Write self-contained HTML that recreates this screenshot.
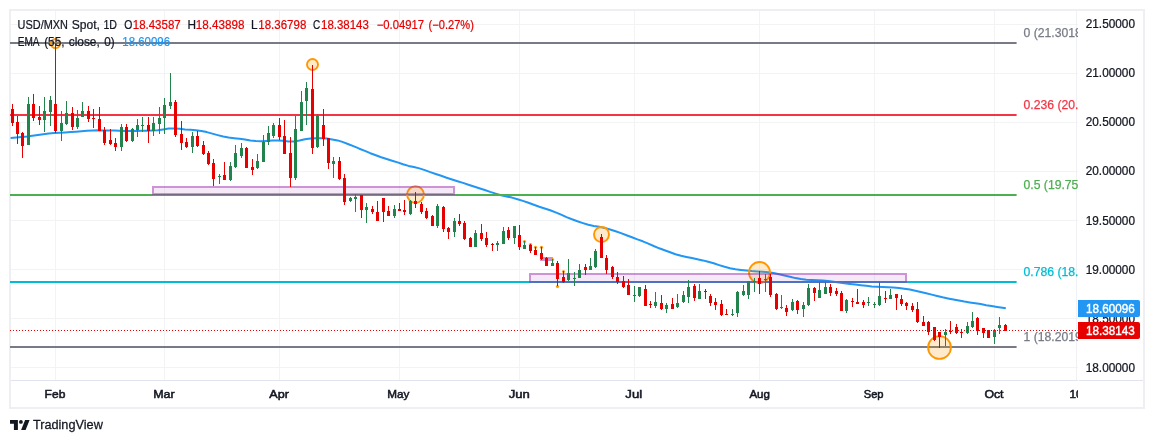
<!DOCTYPE html>
<html lang="en"><head><meta charset="utf-8"><title>USD/MXN Spot, 1D - TradingView</title>
<style>
html,body{margin:0;padding:0;background:#ffffff;}
body{width:1154px;height:443px;overflow:hidden;position:relative;font-family:"Liberation Sans",sans-serif;}
svg{position:absolute;left:0;top:0;display:block;}
text{font-family:"Liberation Sans",sans-serif;}
.c{shape-rendering:crispEdges;}
</style></head><body>
<svg width="1154" height="443" viewBox="0 0 1154 443" role="img" aria-label="USD/MXN daily candlestick chart">
<defs><clipPath id="pane"><rect x="10" y="11" width="1068" height="370"/></clipPath><clipPath id="tax"><rect x="11" y="381" width="1067" height="26"/></clipPath></defs>
<rect x="0" y="0" width="1154" height="443" fill="#ffffff"/>
<rect class="c" x="10" y="10" width="1134" height="398" fill="none" stroke="#edeff3" stroke-width="2"/>
<g class="c" stroke="#f2f3f5" stroke-width="1">
<line x1="11" y1="24.5" x2="1078" y2="24.5"/>
<line x1="11" y1="73.5" x2="1078" y2="73.5"/>
<line x1="11" y1="122.5" x2="1078" y2="122.5"/>
<line x1="11" y1="171.5" x2="1078" y2="171.5"/>
<line x1="11" y1="220.5" x2="1078" y2="220.5"/>
<line x1="11" y1="269.5" x2="1078" y2="269.5"/>
<line x1="11" y1="318.5" x2="1078" y2="318.5"/>
<line x1="11" y1="367.5" x2="1078" y2="367.5"/>
<line x1="55.5" y1="11" x2="55.5" y2="381"/>
<line x1="164.5" y1="11" x2="164.5" y2="381"/>
<line x1="279.5" y1="11" x2="279.5" y2="381"/>
<line x1="399.5" y1="11" x2="399.5" y2="381"/>
<line x1="519.5" y1="11" x2="519.5" y2="381"/>
<line x1="634.5" y1="11" x2="634.5" y2="381"/>
<line x1="759.5" y1="11" x2="759.5" y2="381"/>
<line x1="874.5" y1="11" x2="874.5" y2="381"/>
<line x1="994.5" y1="11" x2="994.5" y2="381"/>
</g>
<line class="c" x1="1076.5" y1="11" x2="1076.5" y2="380" stroke="#f0f1f4" stroke-width="1"/>
<path class="c" d="M11 380.5H1078M1079 380.5H1143" stroke="#e1e3ee" stroke-width="1" fill="none"/>
<g clip-path="url(#pane)">
<polyline points="10.6,137.9 16.1,137.4 21.5,136.9 27.0,136.4 32.4,135.7 37.9,135.0 43.3,134.2 48.8,133.5 54.2,133.1 59.7,132.7 65.1,132.4 70.6,132.1 76.0,131.7 81.5,131.3 86.9,130.8 92.4,130.5 97.8,130.3 103.3,130.4 108.7,130.4 114.2,130.6 119.6,130.8 125.1,130.9 130.5,130.9 136.0,130.9 141.4,130.8 146.9,130.7 152.3,130.5 157.8,130.2 163.2,129.4 168.7,128.6 174.1,128.4 179.6,128.8 185.0,129.4 190.5,129.8 195.9,130.2 201.4,130.9 206.8,132.1 212.3,133.6 217.7,135.1 223.2,136.5 228.6,137.5 234.1,138.2 239.5,138.8 245.0,139.5 250.4,140.5 255.9,141.1 261.3,141.2 266.8,140.9 272.2,140.6 277.7,140.5 283.1,140.8 288.6,141.4 294.0,141.4 299.5,140.5 304.9,139.2 310.4,138.6 315.8,138.3 321.3,138.3 326.7,138.6 332.2,139.4 337.6,140.4 343.1,142.1 348.5,144.2 354.0,146.4 359.4,148.7 364.9,150.9 370.3,153.2 375.8,155.3 381.2,157.3 386.7,159.0 392.1,160.7 397.6,162.4 403.0,164.3 408.5,165.9 413.9,167.1 419.4,168.4 424.8,170.1 430.3,172.1 435.7,174.0 441.2,175.8 446.6,177.7 452.1,179.5 457.5,181.2 463.0,182.9 468.4,184.7 473.9,186.5 479.3,188.2 484.8,190.0 490.2,191.9 495.7,193.6 501.1,195.2 506.6,196.4 512.0,197.6 517.5,199.2 522.9,200.9 528.4,202.7 533.8,204.7 539.3,206.7 544.7,208.5 550.2,210.3 555.6,212.4 561.1,214.7 566.5,217.1 572.0,219.3 577.4,221.3 582.9,223.1 588.3,224.8 593.8,225.9 599.2,226.8 604.7,227.9 610.1,229.5 615.6,231.2 621.0,233.1 626.5,235.2 631.9,237.3 637.4,239.4 642.8,241.3 648.3,243.6 653.7,246.0 659.2,248.3 664.6,250.3 670.1,252.3 675.5,254.2 681.0,255.7 686.4,256.9 691.9,258.1 697.3,259.2 702.8,260.4 708.2,261.8 713.7,263.3 719.1,265.1 724.6,266.8 730.0,268.3 735.5,269.3 740.9,269.9 746.4,270.5 751.8,271.1 757.3,271.5 762.7,271.8 768.2,272.2 773.6,273.1 779.1,274.2 784.5,275.5 790.0,276.8 795.4,278.1 800.9,279.1 806.3,279.7 811.8,280.0 817.2,280.3 822.7,280.6 828.1,281.1 833.6,281.7 839.0,282.5 844.5,283.3 849.9,284.0 855.4,284.6 860.8,285.2 866.3,285.8 871.7,286.4 877.2,286.7 882.6,286.9 888.1,287.2 893.5,287.6 899.0,288.1 904.4,288.7 909.9,289.6 915.3,290.7 920.8,291.9 926.2,293.2 931.7,294.6 937.1,296.0 942.6,297.3 948.0,298.4 953.5,299.5 958.9,300.6 964.4,301.6 969.8,302.4 975.3,303.2 980.7,304.1 986.2,305.2 991.6,306.1 997.1,307.0 1002.5,307.8 1005.8,308.3" fill="none" stroke="#2196f3" stroke-width="2" stroke-linejoin="round" stroke-linecap="butt"/>
<g>
<rect x="10" y="42" width="1006.6" height="2" fill="#787b86"/>
<rect x="10" y="114" width="1006.6" height="2" fill="#f23645"/>
<rect x="10" y="194" width="1006.6" height="2" fill="#4caf50"/>
<rect x="10" y="281" width="1006.6" height="2" fill="#00bcd4"/>
<rect x="10" y="346" width="1006.6" height="2" fill="#787b86"/>
</g>
<circle cx="55.5" cy="43.5" r="4.6" fill="rgba(255,152,0,0.2)" stroke="#ff9800" stroke-width="1.9"/>
<circle cx="312.5" cy="64.5" r="5.5" fill="rgba(255,152,0,0.2)" stroke="#ff9800" stroke-width="1.9"/>
<circle cx="415.5" cy="194.5" r="8.4" fill="rgba(255,152,0,0.2)" stroke="#ff9800" stroke-width="1.9"/>
<circle cx="601.5" cy="234.5" r="7.5" fill="rgba(255,152,0,0.2)" stroke="#ff9800" stroke-width="1.9"/>
<circle cx="759.5" cy="272.5" r="10.5" fill="rgba(255,152,0,0.2)" stroke="#ff9800" stroke-width="1.9"/>
<circle cx="939.5" cy="347.5" r="11.4" fill="rgba(255,152,0,0.2)" stroke="#ff9800" stroke-width="1.9"/>
<rect class="c" x="154" y="188" width="299" height="5" fill="rgba(156,39,176,0.1)"/>
<path class="c" fill="rgba(156,39,176,0.5)" fill-rule="evenodd" d="M152 186H455V195H152Z M154 188V193H453V188Z"/>
<rect class="c" x="531" y="275" width="374" height="6" fill="rgba(156,39,176,0.1)"/>
<path class="c" fill="rgba(156,39,176,0.5)" fill-rule="evenodd" d="M529 273H907V283H529Z M531 275V281H905V275Z"/>
<rect class="c" x="540" y="257" width="13" height="4" fill="rgba(156,39,176,0.5)"/>
<circle cx="524.5" cy="241.5" r="1.6" fill="#ff9800"/>
<circle cx="530.5" cy="244.5" r="1.6" fill="#ff9800"/>
<circle cx="535.5" cy="247.3" r="1.6" fill="#ff9800"/>
<circle cx="541.5" cy="247.3" r="1.6" fill="#ff9800"/>
<circle cx="552.5" cy="259.5" r="1.6" fill="#ff9800"/>
<circle cx="563.5" cy="271.5" r="1.6" fill="#ff9800"/>
<circle cx="557.5" cy="286.5" r="1.6" fill="#ff9800"/>
<g class="c">
<rect x="12" y="104" width="1" height="22" fill="#e60000"/>
<rect x="11" y="109" width="3" height="14" fill="#e60000"/>
<rect x="17" y="116" width="1" height="28" fill="#e60000"/>
<rect x="16" y="122" width="3" height="12" fill="#e60000"/>
<rect x="22" y="132" width="1" height="26" fill="#e60000"/>
<rect x="21" y="133" width="3" height="13" fill="#e60000"/>
<rect x="28" y="97" width="1" height="48" fill="#22834d"/>
<rect x="27" y="104" width="3" height="41" fill="#22834d"/>
<rect x="33" y="94" width="1" height="27" fill="#e60000"/>
<rect x="32" y="104" width="3" height="14" fill="#e60000"/>
<rect x="39" y="106" width="1" height="19" fill="#e60000"/>
<rect x="38" y="117" width="3" height="3" fill="#e60000"/>
<rect x="44" y="97" width="1" height="35" fill="#22834d"/>
<rect x="43" y="111" width="3" height="9" fill="#22834d"/>
<rect x="50" y="96" width="1" height="30" fill="#22834d"/>
<rect x="49" y="100" width="3" height="12" fill="#22834d"/>
<rect x="55" y="44" width="1" height="89" fill="#e60000"/>
<rect x="54" y="104" width="3" height="27" fill="#e60000"/>
<rect x="61" y="111" width="1" height="30" fill="#22834d"/>
<rect x="60" y="123" width="3" height="8" fill="#22834d"/>
<rect x="66" y="101" width="1" height="24" fill="#22834d"/>
<rect x="65" y="113" width="3" height="11" fill="#22834d"/>
<rect x="72" y="107" width="1" height="23" fill="#e60000"/>
<rect x="71" y="113" width="3" height="14" fill="#e60000"/>
<rect x="77" y="110" width="1" height="19" fill="#22834d"/>
<rect x="76" y="118" width="3" height="9" fill="#22834d"/>
<rect x="82" y="102" width="1" height="15" fill="#22834d"/>
<rect x="81" y="111" width="3" height="6" fill="#22834d"/>
<rect x="88" y="106" width="1" height="16" fill="#e60000"/>
<rect x="87" y="111" width="3" height="8" fill="#e60000"/>
<rect x="93" y="109" width="1" height="19" fill="#e60000"/>
<rect x="92" y="118" width="3" height="1" fill="#e60000"/>
<rect x="99" y="107" width="1" height="24" fill="#e60000"/>
<rect x="98" y="119" width="3" height="12" fill="#e60000"/>
<rect x="104" y="127" width="1" height="18" fill="#e60000"/>
<rect x="103" y="130" width="3" height="13" fill="#e60000"/>
<rect x="110" y="129" width="1" height="16" fill="#e60000"/>
<rect x="109" y="140" width="3" height="4" fill="#e60000"/>
<rect x="115" y="138" width="1" height="13" fill="#e60000"/>
<rect x="114" y="143" width="3" height="4" fill="#e60000"/>
<rect x="121" y="124" width="1" height="27" fill="#22834d"/>
<rect x="120" y="127" width="3" height="20" fill="#22834d"/>
<rect x="126" y="124" width="1" height="18" fill="#e60000"/>
<rect x="125" y="127" width="3" height="14" fill="#e60000"/>
<rect x="132" y="128" width="1" height="14" fill="#22834d"/>
<rect x="131" y="129" width="3" height="12" fill="#22834d"/>
<rect x="137" y="119" width="1" height="18" fill="#22834d"/>
<rect x="136" y="125" width="3" height="5" fill="#22834d"/>
<rect x="142" y="117" width="1" height="15" fill="#22834d"/>
<rect x="141" y="125" width="3" height="1" fill="#22834d"/>
<rect x="148" y="117" width="1" height="26" fill="#e60000"/>
<rect x="147" y="125" width="3" height="6" fill="#e60000"/>
<rect x="153" y="117" width="1" height="19" fill="#22834d"/>
<rect x="152" y="123" width="3" height="8" fill="#22834d"/>
<rect x="159" y="107" width="1" height="27" fill="#22834d"/>
<rect x="158" y="118" width="3" height="6" fill="#22834d"/>
<rect x="164" y="98" width="1" height="36" fill="#22834d"/>
<rect x="163" y="105" width="3" height="13" fill="#22834d"/>
<rect x="170" y="73" width="1" height="36" fill="#22834d"/>
<rect x="169" y="102" width="3" height="4" fill="#22834d"/>
<rect x="175" y="100" width="1" height="37" fill="#e60000"/>
<rect x="174" y="102" width="3" height="33" fill="#e60000"/>
<rect x="181" y="121" width="1" height="29" fill="#e60000"/>
<rect x="180" y="134" width="3" height="9" fill="#e60000"/>
<rect x="186" y="138" width="1" height="10" fill="#e60000"/>
<rect x="185" y="142" width="3" height="5" fill="#e60000"/>
<rect x="192" y="132" width="1" height="21" fill="#22834d"/>
<rect x="191" y="136" width="3" height="11" fill="#22834d"/>
<rect x="197" y="131" width="1" height="16" fill="#e60000"/>
<rect x="196" y="136" width="3" height="10" fill="#e60000"/>
<rect x="203" y="141" width="1" height="14" fill="#e60000"/>
<rect x="202" y="145" width="3" height="9" fill="#e60000"/>
<rect x="208" y="151" width="1" height="14" fill="#e60000"/>
<rect x="207" y="153" width="3" height="11" fill="#e60000"/>
<rect x="213" y="159" width="1" height="27" fill="#e60000"/>
<rect x="212" y="163" width="3" height="16" fill="#e60000"/>
<rect x="219" y="174" width="1" height="10" fill="#22834d"/>
<rect x="218" y="176" width="3" height="1" fill="#22834d"/>
<rect x="224" y="162" width="1" height="18" fill="#e60000"/>
<rect x="223" y="175" width="3" height="5" fill="#e60000"/>
<rect x="230" y="162" width="1" height="19" fill="#22834d"/>
<rect x="229" y="166" width="3" height="14" fill="#22834d"/>
<rect x="235" y="145" width="1" height="23" fill="#22834d"/>
<rect x="234" y="153" width="3" height="14" fill="#22834d"/>
<rect x="241" y="143" width="1" height="15" fill="#22834d"/>
<rect x="240" y="148" width="3" height="8" fill="#22834d"/>
<rect x="246" y="147" width="1" height="21" fill="#e60000"/>
<rect x="245" y="148" width="3" height="20" fill="#e60000"/>
<rect x="252" y="159" width="1" height="16" fill="#e60000"/>
<rect x="251" y="167" width="3" height="3" fill="#e60000"/>
<rect x="257" y="154" width="1" height="15" fill="#22834d"/>
<rect x="256" y="161" width="3" height="7" fill="#22834d"/>
<rect x="263" y="135" width="1" height="27" fill="#22834d"/>
<rect x="262" y="142" width="3" height="20" fill="#22834d"/>
<rect x="268" y="126" width="1" height="19" fill="#22834d"/>
<rect x="267" y="133" width="3" height="9" fill="#22834d"/>
<rect x="273" y="123" width="1" height="15" fill="#22834d"/>
<rect x="272" y="125" width="3" height="11" fill="#22834d"/>
<rect x="279" y="118" width="1" height="22" fill="#e60000"/>
<rect x="278" y="125" width="3" height="12" fill="#e60000"/>
<rect x="284" y="120" width="1" height="34" fill="#e60000"/>
<rect x="283" y="136" width="3" height="18" fill="#e60000"/>
<rect x="290" y="137" width="1" height="50" fill="#e60000"/>
<rect x="289" y="153" width="3" height="25" fill="#e60000"/>
<rect x="295" y="116" width="1" height="64" fill="#22834d"/>
<rect x="294" y="129" width="3" height="49" fill="#22834d"/>
<rect x="301" y="91" width="1" height="40" fill="#22834d"/>
<rect x="300" y="102" width="3" height="29" fill="#22834d"/>
<rect x="306" y="82" width="1" height="43" fill="#22834d"/>
<rect x="305" y="88" width="3" height="13" fill="#22834d"/>
<rect x="312" y="65" width="1" height="89" fill="#e60000"/>
<rect x="311" y="89" width="3" height="59" fill="#e60000"/>
<rect x="317" y="114" width="1" height="34" fill="#22834d"/>
<rect x="316" y="116" width="3" height="31" fill="#22834d"/>
<rect x="323" y="109" width="1" height="37" fill="#e60000"/>
<rect x="322" y="125" width="3" height="14" fill="#e60000"/>
<rect x="328" y="138" width="1" height="31" fill="#e60000"/>
<rect x="327" y="138" width="3" height="25" fill="#e60000"/>
<rect x="333" y="157" width="1" height="21" fill="#22834d"/>
<rect x="332" y="161" width="3" height="3" fill="#22834d"/>
<rect x="339" y="157" width="1" height="23" fill="#e60000"/>
<rect x="338" y="161" width="3" height="18" fill="#e60000"/>
<rect x="344" y="174" width="1" height="31" fill="#e60000"/>
<rect x="343" y="178" width="3" height="24" fill="#e60000"/>
<rect x="350" y="197" width="1" height="5" fill="#22834d"/>
<rect x="349" y="198" width="3" height="3" fill="#22834d"/>
<rect x="355" y="194" width="1" height="18" fill="#22834d"/>
<rect x="354" y="197" width="3" height="2" fill="#22834d"/>
<rect x="361" y="195" width="1" height="23" fill="#e60000"/>
<rect x="360" y="195" width="3" height="15" fill="#e60000"/>
<rect x="366" y="203" width="1" height="20" fill="#22834d"/>
<rect x="365" y="207" width="3" height="3" fill="#22834d"/>
<rect x="372" y="206" width="1" height="8" fill="#e60000"/>
<rect x="371" y="209" width="3" height="3" fill="#e60000"/>
<rect x="377" y="201" width="1" height="20" fill="#e60000"/>
<rect x="376" y="212" width="3" height="9" fill="#e60000"/>
<rect x="383" y="198" width="1" height="24" fill="#e60000"/>
<rect x="382" y="198" width="3" height="14" fill="#e60000"/>
<rect x="388" y="206" width="1" height="10" fill="#e60000"/>
<rect x="387" y="211" width="3" height="5" fill="#e60000"/>
<rect x="394" y="205" width="1" height="13" fill="#22834d"/>
<rect x="393" y="209" width="3" height="7" fill="#22834d"/>
<rect x="399" y="203" width="1" height="8" fill="#e60000"/>
<rect x="398" y="209" width="3" height="2" fill="#e60000"/>
<rect x="404" y="200" width="1" height="15" fill="#e60000"/>
<rect x="403" y="210" width="3" height="2" fill="#e60000"/>
<rect x="410" y="200" width="1" height="15" fill="#22834d"/>
<rect x="409" y="201" width="3" height="13" fill="#22834d"/>
<rect x="415" y="192" width="1" height="16" fill="#e60000"/>
<rect x="414" y="201" width="3" height="3" fill="#e60000"/>
<rect x="421" y="202" width="1" height="12" fill="#e60000"/>
<rect x="420" y="204" width="3" height="8" fill="#e60000"/>
<rect x="426" y="208" width="1" height="11" fill="#e60000"/>
<rect x="425" y="211" width="3" height="7" fill="#e60000"/>
<rect x="432" y="215" width="1" height="11" fill="#e60000"/>
<rect x="431" y="216" width="3" height="10" fill="#e60000"/>
<rect x="437" y="204" width="1" height="24" fill="#22834d"/>
<rect x="436" y="206" width="3" height="20" fill="#22834d"/>
<rect x="443" y="206" width="1" height="26" fill="#e60000"/>
<rect x="442" y="207" width="3" height="22" fill="#e60000"/>
<rect x="448" y="227" width="1" height="12" fill="#e60000"/>
<rect x="447" y="228" width="3" height="4" fill="#e60000"/>
<rect x="454" y="218" width="1" height="19" fill="#22834d"/>
<rect x="453" y="221" width="3" height="11" fill="#22834d"/>
<rect x="459" y="214" width="1" height="12" fill="#e60000"/>
<rect x="458" y="221" width="3" height="3" fill="#e60000"/>
<rect x="464" y="221" width="1" height="19" fill="#e60000"/>
<rect x="463" y="223" width="3" height="16" fill="#e60000"/>
<rect x="470" y="237" width="1" height="10" fill="#e60000"/>
<rect x="469" y="238" width="3" height="9" fill="#e60000"/>
<rect x="475" y="230" width="1" height="17" fill="#22834d"/>
<rect x="474" y="233" width="3" height="14" fill="#22834d"/>
<rect x="481" y="224" width="1" height="17" fill="#e60000"/>
<rect x="480" y="233" width="3" height="6" fill="#e60000"/>
<rect x="486" y="232" width="1" height="15" fill="#e60000"/>
<rect x="485" y="238" width="3" height="7" fill="#e60000"/>
<rect x="492" y="243" width="1" height="8" fill="#e60000"/>
<rect x="491" y="244" width="3" height="1" fill="#e60000"/>
<rect x="497" y="241" width="1" height="10" fill="#22834d"/>
<rect x="496" y="243" width="3" height="2" fill="#22834d"/>
<rect x="503" y="227" width="1" height="17" fill="#22834d"/>
<rect x="502" y="231" width="3" height="13" fill="#22834d"/>
<rect x="508" y="227" width="1" height="13" fill="#e60000"/>
<rect x="507" y="230" width="3" height="8" fill="#e60000"/>
<rect x="514" y="226" width="1" height="18" fill="#22834d"/>
<rect x="513" y="226" width="3" height="12" fill="#22834d"/>
<rect x="519" y="225" width="1" height="25" fill="#e60000"/>
<rect x="518" y="235" width="3" height="12" fill="#e60000"/>
<rect x="524" y="241" width="1" height="8" fill="#22834d"/>
<rect x="523" y="245" width="3" height="4" fill="#22834d"/>
<rect x="530" y="244" width="1" height="9" fill="#e60000"/>
<rect x="529" y="245" width="3" height="6" fill="#e60000"/>
<rect x="535" y="247" width="1" height="8" fill="#e60000"/>
<rect x="534" y="250" width="3" height="5" fill="#e60000"/>
<rect x="541" y="247" width="1" height="13" fill="#e60000"/>
<rect x="540" y="253" width="3" height="6" fill="#e60000"/>
<rect x="546" y="257" width="1" height="9" fill="#e60000"/>
<rect x="545" y="258" width="3" height="8" fill="#e60000"/>
<rect x="552" y="259" width="1" height="7" fill="#22834d"/>
<rect x="551" y="263" width="3" height="3" fill="#22834d"/>
<rect x="557" y="261" width="1" height="25" fill="#e60000"/>
<rect x="556" y="263" width="3" height="16" fill="#e60000"/>
<rect x="563" y="271" width="1" height="12" fill="#e60000"/>
<rect x="562" y="277" width="3" height="5" fill="#e60000"/>
<rect x="568" y="259" width="1" height="22" fill="#22834d"/>
<rect x="567" y="273" width="3" height="7" fill="#22834d"/>
<rect x="574" y="272" width="1" height="14" fill="#22834d"/>
<rect x="573" y="278" width="3" height="1" fill="#22834d"/>
<rect x="579" y="264" width="1" height="14" fill="#22834d"/>
<rect x="578" y="270" width="3" height="8" fill="#22834d"/>
<rect x="585" y="264" width="1" height="11" fill="#e60000"/>
<rect x="584" y="267" width="3" height="3" fill="#e60000"/>
<rect x="590" y="258" width="1" height="12" fill="#22834d"/>
<rect x="589" y="266" width="3" height="4" fill="#22834d"/>
<rect x="595" y="249" width="1" height="19" fill="#22834d"/>
<rect x="594" y="251" width="3" height="16" fill="#22834d"/>
<rect x="601" y="234" width="1" height="24" fill="#e60000"/>
<rect x="600" y="237" width="3" height="21" fill="#e60000"/>
<rect x="606" y="255" width="1" height="19" fill="#e60000"/>
<rect x="605" y="258" width="3" height="12" fill="#e60000"/>
<rect x="612" y="266" width="1" height="13" fill="#e60000"/>
<rect x="611" y="267" width="3" height="10" fill="#e60000"/>
<rect x="617" y="272" width="1" height="12" fill="#e60000"/>
<rect x="616" y="277" width="3" height="5" fill="#e60000"/>
<rect x="623" y="276" width="1" height="12" fill="#e60000"/>
<rect x="622" y="281" width="3" height="6" fill="#e60000"/>
<rect x="628" y="279" width="1" height="16" fill="#e60000"/>
<rect x="627" y="285" width="3" height="10" fill="#e60000"/>
<rect x="634" y="286" width="1" height="16" fill="#22834d"/>
<rect x="633" y="295" width="3" height="1" fill="#22834d"/>
<rect x="639" y="287" width="1" height="10" fill="#22834d"/>
<rect x="638" y="287" width="3" height="9" fill="#22834d"/>
<rect x="645" y="285" width="1" height="21" fill="#e60000"/>
<rect x="644" y="289" width="3" height="17" fill="#e60000"/>
<rect x="650" y="301" width="1" height="7" fill="#e60000"/>
<rect x="649" y="304" width="3" height="1" fill="#e60000"/>
<rect x="655" y="292" width="1" height="16" fill="#22834d"/>
<rect x="654" y="302" width="3" height="4" fill="#22834d"/>
<rect x="661" y="295" width="1" height="15" fill="#e60000"/>
<rect x="660" y="303" width="3" height="6" fill="#e60000"/>
<rect x="666" y="303" width="1" height="10" fill="#22834d"/>
<rect x="665" y="305" width="3" height="4" fill="#22834d"/>
<rect x="672" y="298" width="1" height="11" fill="#e60000"/>
<rect x="671" y="304" width="3" height="5" fill="#e60000"/>
<rect x="677" y="294" width="1" height="14" fill="#22834d"/>
<rect x="676" y="303" width="3" height="4" fill="#22834d"/>
<rect x="683" y="291" width="1" height="12" fill="#22834d"/>
<rect x="682" y="295" width="3" height="7" fill="#22834d"/>
<rect x="688" y="280" width="1" height="23" fill="#22834d"/>
<rect x="687" y="287" width="3" height="10" fill="#22834d"/>
<rect x="694" y="284" width="1" height="17" fill="#e60000"/>
<rect x="693" y="286" width="3" height="12" fill="#e60000"/>
<rect x="699" y="284" width="1" height="15" fill="#22834d"/>
<rect x="698" y="291" width="3" height="8" fill="#22834d"/>
<rect x="705" y="289" width="1" height="10" fill="#e60000"/>
<rect x="704" y="291" width="3" height="1" fill="#e60000"/>
<rect x="710" y="294" width="1" height="12" fill="#e60000"/>
<rect x="709" y="296" width="3" height="7" fill="#e60000"/>
<rect x="715" y="298" width="1" height="12" fill="#e60000"/>
<rect x="714" y="302" width="3" height="3" fill="#e60000"/>
<rect x="721" y="300" width="1" height="16" fill="#e60000"/>
<rect x="720" y="304" width="3" height="11" fill="#e60000"/>
<rect x="726" y="309" width="1" height="6" fill="#e60000"/>
<rect x="725" y="314" width="3" height="1" fill="#e60000"/>
<rect x="732" y="309" width="1" height="7" fill="#22834d"/>
<rect x="731" y="314" width="3" height="1" fill="#22834d"/>
<rect x="737" y="291" width="1" height="26" fill="#22834d"/>
<rect x="736" y="292" width="3" height="21" fill="#22834d"/>
<rect x="743" y="285" width="1" height="11" fill="#22834d"/>
<rect x="742" y="291" width="3" height="4" fill="#22834d"/>
<rect x="748" y="281" width="1" height="18" fill="#22834d"/>
<rect x="747" y="281" width="3" height="14" fill="#22834d"/>
<rect x="754" y="278" width="1" height="14" fill="#22834d"/>
<rect x="753" y="281" width="3" height="1" fill="#22834d"/>
<rect x="759" y="271" width="1" height="23" fill="#e60000"/>
<rect x="758" y="278" width="3" height="6" fill="#e60000"/>
<rect x="765" y="274" width="1" height="18" fill="#22834d"/>
<rect x="764" y="279" width="3" height="1" fill="#22834d"/>
<rect x="770" y="274" width="1" height="23" fill="#e60000"/>
<rect x="769" y="277" width="3" height="18" fill="#e60000"/>
<rect x="776" y="293" width="1" height="17" fill="#e60000"/>
<rect x="775" y="294" width="3" height="15" fill="#e60000"/>
<rect x="781" y="295" width="1" height="14" fill="#22834d"/>
<rect x="780" y="307" width="3" height="1" fill="#22834d"/>
<rect x="786" y="305" width="1" height="11" fill="#e60000"/>
<rect x="785" y="308" width="3" height="4" fill="#e60000"/>
<rect x="792" y="299" width="1" height="12" fill="#22834d"/>
<rect x="791" y="302" width="3" height="8" fill="#22834d"/>
<rect x="797" y="300" width="1" height="14" fill="#e60000"/>
<rect x="796" y="301" width="3" height="9" fill="#e60000"/>
<rect x="803" y="302" width="1" height="15" fill="#22834d"/>
<rect x="802" y="305" width="3" height="4" fill="#22834d"/>
<rect x="808" y="284" width="1" height="22" fill="#22834d"/>
<rect x="807" y="288" width="3" height="17" fill="#22834d"/>
<rect x="814" y="287" width="1" height="14" fill="#e60000"/>
<rect x="813" y="288" width="3" height="5" fill="#e60000"/>
<rect x="819" y="282" width="1" height="16" fill="#22834d"/>
<rect x="818" y="290" width="3" height="8" fill="#22834d"/>
<rect x="825" y="282" width="1" height="12" fill="#22834d"/>
<rect x="824" y="287" width="3" height="7" fill="#22834d"/>
<rect x="830" y="284" width="1" height="12" fill="#e60000"/>
<rect x="829" y="287" width="3" height="6" fill="#e60000"/>
<rect x="836" y="288" width="1" height="8" fill="#e60000"/>
<rect x="835" y="291" width="3" height="3" fill="#e60000"/>
<rect x="841" y="291" width="1" height="20" fill="#e60000"/>
<rect x="840" y="293" width="3" height="18" fill="#e60000"/>
<rect x="846" y="299" width="1" height="14" fill="#22834d"/>
<rect x="845" y="300" width="3" height="11" fill="#22834d"/>
<rect x="852" y="298" width="1" height="9" fill="#e60000"/>
<rect x="851" y="301" width="3" height="1" fill="#e60000"/>
<rect x="857" y="289" width="1" height="15" fill="#e60000"/>
<rect x="856" y="302" width="3" height="2" fill="#e60000"/>
<rect x="863" y="300" width="1" height="8" fill="#e60000"/>
<rect x="862" y="302" width="3" height="3" fill="#e60000"/>
<rect x="868" y="297" width="1" height="9" fill="#22834d"/>
<rect x="867" y="302" width="3" height="1" fill="#22834d"/>
<rect x="874" y="302" width="1" height="6" fill="#22834d"/>
<rect x="873" y="304" width="3" height="1" fill="#22834d"/>
<rect x="879" y="282" width="1" height="24" fill="#22834d"/>
<rect x="878" y="296" width="3" height="9" fill="#22834d"/>
<rect x="885" y="291" width="1" height="12" fill="#e60000"/>
<rect x="884" y="298" width="3" height="1" fill="#e60000"/>
<rect x="890" y="289" width="1" height="10" fill="#22834d"/>
<rect x="889" y="295" width="3" height="4" fill="#22834d"/>
<rect x="896" y="294" width="1" height="16" fill="#e60000"/>
<rect x="895" y="294" width="3" height="4" fill="#e60000"/>
<rect x="901" y="295" width="1" height="11" fill="#e60000"/>
<rect x="900" y="299" width="3" height="5" fill="#e60000"/>
<rect x="906" y="302" width="1" height="8" fill="#e60000"/>
<rect x="905" y="303" width="3" height="3" fill="#e60000"/>
<rect x="912" y="303" width="1" height="9" fill="#e60000"/>
<rect x="911" y="306" width="3" height="4" fill="#e60000"/>
<rect x="917" y="302" width="1" height="21" fill="#e60000"/>
<rect x="916" y="309" width="3" height="13" fill="#e60000"/>
<rect x="923" y="316" width="1" height="10" fill="#e60000"/>
<rect x="922" y="322" width="3" height="4" fill="#e60000"/>
<rect x="928" y="321" width="1" height="14" fill="#e60000"/>
<rect x="927" y="322" width="3" height="10" fill="#e60000"/>
<rect x="934" y="327" width="1" height="14" fill="#e60000"/>
<rect x="933" y="327" width="3" height="13" fill="#e60000"/>
<rect x="939" y="332" width="1" height="16" fill="#e60000"/>
<rect x="938" y="332" width="3" height="5" fill="#e60000"/>
<rect x="945" y="329" width="1" height="17" fill="#22834d"/>
<rect x="944" y="332" width="3" height="3" fill="#22834d"/>
<rect x="950" y="321" width="1" height="13" fill="#e60000"/>
<rect x="949" y="331" width="3" height="1" fill="#e60000"/>
<rect x="956" y="324" width="1" height="10" fill="#e60000"/>
<rect x="955" y="327" width="3" height="6" fill="#e60000"/>
<rect x="961" y="329" width="1" height="9" fill="#e60000"/>
<rect x="960" y="332" width="3" height="1" fill="#e60000"/>
<rect x="967" y="322" width="1" height="12" fill="#22834d"/>
<rect x="966" y="326" width="3" height="7" fill="#22834d"/>
<rect x="972" y="312" width="1" height="16" fill="#22834d"/>
<rect x="971" y="321" width="3" height="6" fill="#22834d"/>
<rect x="977" y="317" width="1" height="18" fill="#e60000"/>
<rect x="976" y="318" width="3" height="13" fill="#e60000"/>
<rect x="983" y="328" width="1" height="10" fill="#e60000"/>
<rect x="982" y="328" width="3" height="5" fill="#e60000"/>
<rect x="988" y="330" width="1" height="8" fill="#e60000"/>
<rect x="987" y="330" width="3" height="8" fill="#e60000"/>
<rect x="994" y="329" width="1" height="15" fill="#22834d"/>
<rect x="993" y="330" width="3" height="7" fill="#22834d"/>
<rect x="999" y="317" width="1" height="17" fill="#22834d"/>
<rect x="998" y="325" width="3" height="3" fill="#22834d"/>
<rect x="1005" y="324" width="1" height="7" fill="#e60000"/>
<rect x="1004" y="325" width="3" height="6" fill="#e60000"/>
</g>
<line class="c" x1="10" y1="330.5" x2="1078" y2="330.5" stroke="#e60000" stroke-width="1" stroke-dasharray="1 2"/>
<text x="1023.5" y="37" font-size="12.2" fill="#787b86" stroke="#787b86" stroke-width="0.25">0 (21.30180)</text>
<text x="1023.5" y="109" font-size="12.2" fill="#f23645" stroke="#f23645" stroke-width="0.25">0.236 (20.57022)</text>
<text x="1023.5" y="189" font-size="12.2" fill="#4caf50" stroke="#4caf50" stroke-width="0.25">0.5 (19.75185)</text>
<text x="1023.5" y="276" font-size="12.2" fill="#00bcd4" stroke="#00bcd4" stroke-width="0.25">0.786 (18.86527)</text>
<text x="1023.5" y="341" font-size="12.2" fill="#787b86" stroke="#787b86" stroke-width="0.25">1 (18.20190)</text>
</g>
<text transform="translate(1085.72 28) scale(0.97 1)" font-size="12.2" fill="#131722" stroke="#131722" stroke-width="0.25">21.50000</text>
<text transform="translate(1085.72 77) scale(0.97 1)" font-size="12.2" fill="#131722" stroke="#131722" stroke-width="0.25">21.00000</text>
<text transform="translate(1085.72 126) scale(0.97 1)" font-size="12.2" fill="#131722" stroke="#131722" stroke-width="0.25">20.50000</text>
<text transform="translate(1085.72 175) scale(0.97 1)" font-size="12.2" fill="#131722" stroke="#131722" stroke-width="0.25">20.00000</text>
<text transform="translate(1085.72 225) scale(0.97 1)" font-size="12.2" fill="#131722" stroke="#131722" stroke-width="0.25">19.50000</text>
<text transform="translate(1085.72 274) scale(0.97 1)" font-size="12.2" fill="#131722" stroke="#131722" stroke-width="0.25">19.00000</text>
<text transform="translate(1085.72 323) scale(0.97 1)" font-size="12.2" fill="#131722" stroke="#131722" stroke-width="0.25">18.50000</text>
<text transform="translate(1085.72 372) scale(0.97 1)" font-size="12.2" fill="#131722" stroke="#131722" stroke-width="0.25">18.00000</text>
<path d="M1078 300H1138a2 2 0 0 1 2 2V315a2 2 0 0 1 -2 2H1078Z" fill="#2196f3"/>
<text transform="translate(1085.93 313) scale(0.9578 1)" font-size="12.2" fill="#ffffff" stroke="#ffffff" stroke-width="0.4">18.60096</text>
<path d="M1078 322H1138a2 2 0 0 1 2 2V337a2 2 0 0 1 -2 2H1078Z" fill="#e60000"/>
<text transform="translate(1085.93 335) scale(0.9578 1)" font-size="12.2" fill="#ffffff" stroke="#ffffff" stroke-width="0.4">18.38143</text>
<g clip-path="url(#tax)">
<text transform="translate(44.59 397.6) scale(1.0206 1)" font-size="11.8" fill="#131722" stroke="#131722" stroke-width="0.55">Feb</text>
<text transform="translate(153.16 397.6) scale(1.0558 1)" font-size="11.8" fill="#131722" stroke="#131722" stroke-width="0.55">Mar</text>
<text transform="translate(269.33 397.6) scale(1.0691 1)" font-size="11.8" fill="#131722" stroke="#131722" stroke-width="0.55">Apr</text>
<text transform="translate(387.2 397.6) scale(0.9954 1)" font-size="11.8" fill="#131722" stroke="#131722" stroke-width="0.55">May</text>
<text transform="translate(508.81 397.6) scale(1.1075 1)" font-size="11.8" fill="#131722" stroke="#131722" stroke-width="0.55">Jun</text>
<text transform="translate(625.31 397.6) scale(1.1156 1)" font-size="11.8" fill="#131722" stroke="#131722" stroke-width="0.55">Jul</text>
<text transform="translate(749.39 397.6) scale(0.9809 1)" font-size="11.8" fill="#131722" stroke="#131722" stroke-width="0.55">Aug</text>
<text transform="translate(863.71 397.6) scale(0.9466 1)" font-size="11.8" fill="#131722" stroke="#131722" stroke-width="0.55">Sep</text>
<text transform="translate(984.39 397.6) scale(1.044 1)" font-size="11.8" fill="#131722" stroke="#131722" stroke-width="0.55">Oct</text>
<text x="1069.4" y="397.6" font-size="11.8" fill="#131722" stroke="#131722" stroke-width="0.55">10</text>
</g>
<text transform="translate(17.57 28.6) scale(0.9106 1)" font-size="12.0" fill="#131722" stroke="#131722" stroke-width="0.22">USD/MXN</text>
<text transform="translate(71.7 28.6) scale(1.0075 1)" font-size="12.0" fill="#131722" stroke="#131722" stroke-width="0.22">Spot,</text>
<text transform="translate(103.39 28.6) scale(0.8865 1)" font-size="12.0" fill="#131722" stroke="#131722" stroke-width="0.22">1D</text>
<text transform="translate(124.27 28.6) scale(0.869 1)" font-size="12.0" fill="#131722" stroke="#131722" stroke-width="0.22">O</text>
<text transform="translate(132.73 28.6) scale(0.959 1)" font-size="12.0" fill="#e60000" stroke="#e60000" stroke-width="0.22">18.43587</text>
<text transform="translate(187.41 28.6) scale(0.9855 1)" font-size="12.0" fill="#131722" stroke="#131722" stroke-width="0.22">H</text>
<text transform="translate(195.82 28.6) scale(0.9734 1)" font-size="12.0" fill="#e60000" stroke="#e60000" stroke-width="0.22">18.43898</text>
<text transform="translate(251.02 28.6) scale(0.9818 1)" font-size="12.0" fill="#131722" stroke="#131722" stroke-width="0.22">L</text>
<text transform="translate(258.33 28.6) scale(0.959 1)" font-size="12.0" fill="#e60000" stroke="#e60000" stroke-width="0.22">18.36798</text>
<text transform="translate(313.08 28.6) scale(0.8333 1)" font-size="12.0" fill="#131722" stroke="#131722" stroke-width="0.22">C</text>
<text transform="translate(321.03 28.6) scale(0.957 1)" font-size="12.0" fill="#e60000" stroke="#e60000" stroke-width="0.22">18.38143</text>
<text transform="translate(376.73 28.6) scale(0.9393 1)" font-size="12.0" fill="#e60000" stroke="#e60000" stroke-width="0.22">−0.04917</text>
<text transform="translate(428.55 28.6) scale(0.9247 1)" font-size="12.0" fill="#e60000" stroke="#e60000" stroke-width="0.22">(−0.27%)</text>
<text transform="translate(17.75 45.5) scale(0.8373 1)" font-size="12.0" fill="#131722" stroke="#131722" stroke-width="0.22">EMA</text>
<text transform="translate(44.21 45.5) scale(0.9791 1)" font-size="12.0" fill="#131722" stroke="#131722" stroke-width="0.22">(55,</text>
<text transform="translate(68.7 45.5) scale(0.9933 1)" font-size="12.0" fill="#131722" stroke="#131722" stroke-width="0.22">close,</text>
<text transform="translate(104.21 45.5) scale(0.9792 1)" font-size="12.0" fill="#131722" stroke="#131722" stroke-width="0.22">0)</text>
<text transform="translate(122.34 45.5) scale(0.9549 1)" font-size="12.0" fill="#2196f3" stroke="#2196f3" stroke-width="0.22">18.60096</text>
<g fill="#131722">
<path d="M10 420H17.9V429.9H13.9V423.8H10Z"/>
<circle cx="20.9" cy="421.95" r="1.9"/>
<path d="M25.1 420H29.6L25.6 429.9H21.1Z"/>
</g>
<text transform="translate(32.89 429.3) scale(1.034 1)" font-size="12.3" fill="#131722" stroke="#131722" stroke-width="0.25">TradingView</text>
</svg>
</body></html>
